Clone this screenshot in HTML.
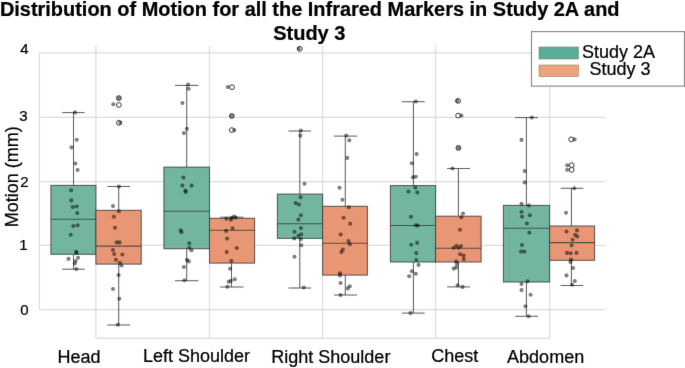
<!DOCTYPE html>
<html><head><meta charset="utf-8"><style>
html,body{margin:0;padding:0;background:#fff;width:685px;height:368px;overflow:hidden}
svg{display:block;will-change:transform}
text{font-family:"Liberation Sans",sans-serif;fill:#000;stroke:#000;stroke-width:0.22px}
</style></head><body>
<svg width="685" height="368" viewBox="0 0 685 368">
<defs><filter id="bl" color-interpolation-filters="sRGB" x="0" y="0" width="685" height="368" filterUnits="userSpaceOnUse"><feConvolveMatrix order="3" kernelMatrix="0.01 0.05 0.01 0.05 0.76 0.05 0.01 0.05 0.01" edgeMode="duplicate" preserveAlpha="true"/></filter></defs>
<g filter="url(#bl)">
<rect width="685" height="368" fill="#fff"/>

<g stroke="#dcdcdc" stroke-width="1.2" fill="none">
<line x1="39.3" y1="52.9" x2="605.5" y2="52.9"/>
<line x1="39.3" y1="117.4" x2="605.5" y2="117.4"/>
<line x1="39.3" y1="181.6" x2="605.5" y2="181.6"/>
<line x1="39.3" y1="245.4" x2="605.5" y2="245.4"/>
<line x1="39.3" y1="309.6" x2="605.5" y2="309.6"/>
<line x1="39.3" y1="52.9" x2="39.3" y2="309.6"/>
<line x1="95.9" y1="45.4" x2="95.9" y2="338.3"/>
<line x1="209.5" y1="45.4" x2="209.5" y2="338.3"/>
<line x1="322.6" y1="45.4" x2="322.6" y2="338.3"/>
<line x1="435.6" y1="45.4" x2="435.6" y2="338.3"/>
<line x1="549.6" y1="45.4" x2="549.6" y2="338.3"/>
<line x1="95.9" y1="338.3" x2="549.6" y2="338.3"/>
</g>
<g stroke="#383838" stroke-width="1.05" stroke-opacity="0.8">
<line x1="73.5" y1="112.6" x2="73.5" y2="185.4"/>
<line x1="73.5" y1="254.3" x2="73.5" y2="269.2"/>
<line x1="62.2" y1="112.6" x2="84.7" y2="112.6"/>
<line x1="62.2" y1="269.2" x2="84.7" y2="269.2"/>
<rect x="50.9" y="185.4" width="45.0" height="68.9" fill="#72b6a1"/>
<line x1="50.9" y1="219.3" x2="95.9" y2="219.3"/>
<line x1="118.7" y1="186.5" x2="118.7" y2="210.3"/>
<line x1="118.7" y1="264.1" x2="118.7" y2="325.0"/>
<line x1="107.4" y1="186.5" x2="130.1" y2="186.5"/>
<line x1="107.4" y1="325.0" x2="130.1" y2="325.0"/>
<rect x="95.9" y="210.3" width="45.3" height="53.8" fill="#e99675"/>
<line x1="95.9" y1="246.1" x2="141.2" y2="246.1"/>
<line x1="186.7" y1="85.4" x2="186.7" y2="167.1"/>
<line x1="186.7" y1="248.7" x2="186.7" y2="280.7"/>
<line x1="175.0" y1="85.4" x2="198.3" y2="85.4"/>
<line x1="175.0" y1="280.7" x2="198.3" y2="280.7"/>
<rect x="163.9" y="167.1" width="45.6" height="81.6" fill="#72b6a1"/>
<line x1="163.9" y1="211.2" x2="209.5" y2="211.2"/>
<line x1="231.5" y1="217.2" x2="231.5" y2="218.3"/>
<line x1="231.5" y1="263.1" x2="231.5" y2="287.0"/>
<line x1="220.2" y1="217.2" x2="243.5" y2="217.2"/>
<line x1="220.2" y1="287.0" x2="243.5" y2="287.0"/>
<rect x="209.5" y="218.3" width="45.1" height="44.8" fill="#e99675"/>
<line x1="209.5" y1="230.2" x2="254.6" y2="230.2"/>
<line x1="299.8" y1="131.0" x2="299.8" y2="194.1"/>
<line x1="299.8" y1="238.4" x2="299.8" y2="288.0"/>
<line x1="288.4" y1="131.0" x2="311.1" y2="131.0"/>
<line x1="288.4" y1="288.0" x2="311.1" y2="288.0"/>
<rect x="277.4" y="194.1" width="45.2" height="44.3" fill="#72b6a1"/>
<line x1="277.4" y1="223.7" x2="322.6" y2="223.7"/>
<line x1="345.3" y1="136.1" x2="345.3" y2="206.3"/>
<line x1="345.3" y1="275.1" x2="345.3" y2="295.0"/>
<line x1="333.9" y1="136.1" x2="357.0" y2="136.1"/>
<line x1="333.9" y1="295.0" x2="357.0" y2="295.0"/>
<rect x="322.6" y="206.3" width="44.8" height="68.8" fill="#e99675"/>
<line x1="322.6" y1="243.3" x2="367.4" y2="243.3"/>
<line x1="413.4" y1="101.7" x2="413.4" y2="185.6"/>
<line x1="413.4" y1="262.0" x2="413.4" y2="313.1"/>
<line x1="401.9" y1="101.7" x2="424.6" y2="101.7"/>
<line x1="401.9" y1="313.1" x2="424.6" y2="313.1"/>
<rect x="390.4" y="185.6" width="45.2" height="76.4" fill="#72b6a1"/>
<line x1="390.4" y1="225.5" x2="435.6" y2="225.5"/>
<line x1="458.4" y1="168.5" x2="458.4" y2="216.2"/>
<line x1="458.4" y1="262.0" x2="458.4" y2="286.9"/>
<line x1="447.1" y1="168.5" x2="469.9" y2="168.5"/>
<line x1="447.1" y1="286.9" x2="469.9" y2="286.9"/>
<rect x="435.6" y="216.2" width="45.5" height="45.8" fill="#e99675"/>
<line x1="435.6" y1="248.3" x2="481.1" y2="248.3"/>
<line x1="526.4" y1="117.6" x2="526.4" y2="205.4"/>
<line x1="526.4" y1="282.0" x2="526.4" y2="316.3"/>
<line x1="515.2" y1="117.6" x2="537.9" y2="117.6"/>
<line x1="515.2" y1="316.3" x2="537.9" y2="316.3"/>
<rect x="503.4" y="205.4" width="46.2" height="76.6" fill="#72b6a1"/>
<line x1="503.4" y1="228.2" x2="549.6" y2="228.2"/>
<line x1="571.4" y1="188.3" x2="571.4" y2="226.0"/>
<line x1="571.4" y1="260.3" x2="571.4" y2="285.5"/>
<line x1="560.6" y1="188.3" x2="583.1" y2="188.3"/>
<line x1="560.6" y1="285.5" x2="583.1" y2="285.5"/>
<rect x="549.6" y="226.0" width="45.0" height="34.3" fill="#e99675"/>
<line x1="549.6" y1="242.6" x2="594.6" y2="242.6"/>
</g>
<g stroke="#383838" stroke-width="1" fill="#fff">
<circle cx="118.9" cy="98.1" r="2.4"/>
<circle cx="118.9" cy="105.0" r="2.4"/>
<circle cx="118.9" cy="122.8" r="2.4"/>
<circle cx="232.0" cy="87.2" r="2.4"/>
<circle cx="231.8" cy="116.0" r="2.4"/>
<circle cx="231.8" cy="130.1" r="2.4"/>
<circle cx="299.8" cy="48.8" r="2.4"/>
<circle cx="458.1" cy="100.9" r="2.4"/>
<circle cx="458.1" cy="115.6" r="2.4"/>
<circle cx="458.4" cy="147.9" r="2.4"/>
<circle cx="571.2" cy="139.4" r="2.4"/>
<circle cx="571.7" cy="165.2" r="2.4"/>
<circle cx="571.7" cy="169.8" r="2.4"/>
</g>
<g fill="#000" fill-opacity="0.5">
<circle cx="75" cy="112.4" r="2.05"/>
<circle cx="76.7" cy="139.8" r="2.05"/>
<circle cx="71.5" cy="147.4" r="2.05"/>
<circle cx="75.4" cy="163.5" r="2.05"/>
<circle cx="77.6" cy="170" r="2.05"/>
<circle cx="71.1" cy="190.2" r="2.05"/>
<circle cx="71.3" cy="200.4" r="2.05"/>
<circle cx="72.8" cy="207" r="2.05"/>
<circle cx="76.7" cy="206.5" r="2.05"/>
<circle cx="77.2" cy="213" r="2.05"/>
<circle cx="73.3" cy="226.1" r="2.05"/>
<circle cx="77.6" cy="225.2" r="2.05"/>
<circle cx="70.7" cy="234.8" r="2.05"/>
<circle cx="76.1" cy="251.7" r="2.05"/>
<circle cx="76.5" cy="253" r="2.05"/>
<circle cx="68.5" cy="258.9" r="2.05"/>
<circle cx="78" cy="257.7" r="2.05"/>
<circle cx="75.6" cy="261.1" r="2.05"/>
<circle cx="74.8" cy="263.6" r="2.05"/>
<circle cx="76.3" cy="269" r="2.05"/>
<circle cx="118.9" cy="98.1" r="2.05"/>
<circle cx="113.3" cy="104.3" r="2.05"/>
<circle cx="120.2" cy="122.8" r="2.05"/>
<circle cx="118.9" cy="186.5" r="2.05"/>
<circle cx="113" cy="206.1" r="2.05"/>
<circle cx="118.9" cy="211.3" r="2.05"/>
<circle cx="113.9" cy="216.7" r="2.05"/>
<circle cx="115" cy="227.8" r="2.05"/>
<circle cx="116.7" cy="242.4" r="2.05"/>
<circle cx="119.6" cy="242.4" r="2.05"/>
<circle cx="113" cy="250" r="2.05"/>
<circle cx="114.2" cy="254" r="2.05"/>
<circle cx="122.3" cy="254.5" r="2.05"/>
<circle cx="115.9" cy="259.7" r="2.05"/>
<circle cx="119.8" cy="262.8" r="2.05"/>
<circle cx="121.5" cy="265.5" r="2.05"/>
<circle cx="118.6" cy="275.1" r="2.05"/>
<circle cx="113" cy="289" r="2.05"/>
<circle cx="119.3" cy="298.8" r="2.05"/>
<circle cx="117.9" cy="324.7" r="2.05"/>
<circle cx="188.1" cy="84.5" r="2.05"/>
<circle cx="188.7" cy="88.7" r="2.05"/>
<circle cx="182.4" cy="103" r="2.05"/>
<circle cx="186.9" cy="128.7" r="2.05"/>
<circle cx="183.9" cy="133.1" r="2.05"/>
<circle cx="183.4" cy="177.5" r="2.05"/>
<circle cx="182.4" cy="185.6" r="2.05"/>
<circle cx="191.7" cy="185.6" r="2.05"/>
<circle cx="185.4" cy="190.5" r="2.05"/>
<circle cx="185.7" cy="192" r="2.05"/>
<circle cx="180.7" cy="230.3" r="2.05"/>
<circle cx="181.5" cy="232.3" r="2.05"/>
<circle cx="189.3" cy="243.3" r="2.05"/>
<circle cx="189.3" cy="247.7" r="2.05"/>
<circle cx="191.5" cy="250.2" r="2.05"/>
<circle cx="186.9" cy="259.9" r="2.05"/>
<circle cx="188.8" cy="261.4" r="2.05"/>
<circle cx="183.9" cy="267" r="2.05"/>
<circle cx="184.4" cy="280.2" r="2.05"/>
<circle cx="227.8" cy="87" r="2.05"/>
<circle cx="231.8" cy="116" r="2.05"/>
<circle cx="234.3" cy="130.1" r="2.05"/>
<circle cx="226.4" cy="218.8" r="2.05"/>
<circle cx="230.9" cy="219.7" r="2.05"/>
<circle cx="231.6" cy="217.8" r="2.05"/>
<circle cx="234" cy="216.6" r="2.05"/>
<circle cx="235.9" cy="217.6" r="2.05"/>
<circle cx="232.6" cy="228.3" r="2.05"/>
<circle cx="226.1" cy="230.9" r="2.05"/>
<circle cx="227.1" cy="238.6" r="2.05"/>
<circle cx="236.7" cy="248" r="2.05"/>
<circle cx="226.7" cy="252.1" r="2.05"/>
<circle cx="231.3" cy="260.9" r="2.05"/>
<circle cx="230.1" cy="268.7" r="2.05"/>
<circle cx="234.8" cy="279.3" r="2.05"/>
<circle cx="230.9" cy="280.7" r="2.05"/>
<circle cx="228.7" cy="281.7" r="2.05"/>
<circle cx="227.4" cy="286.8" r="2.05"/>
<circle cx="298.8" cy="48.8" r="2.05"/>
<circle cx="300.9" cy="130.5" r="2.05"/>
<circle cx="300.4" cy="135.6" r="2.05"/>
<circle cx="304.5" cy="183.8" r="2.05"/>
<circle cx="300.6" cy="197.3" r="2.05"/>
<circle cx="295.7" cy="203.1" r="2.05"/>
<circle cx="299.0" cy="204.5" r="2.05"/>
<circle cx="300.9" cy="215.2" r="2.05"/>
<circle cx="298.4" cy="219.6" r="2.05"/>
<circle cx="300.9" cy="228.1" r="2.05"/>
<circle cx="294.5" cy="231.8" r="2.05"/>
<circle cx="301.3" cy="234.2" r="2.05"/>
<circle cx="298.4" cy="235.9" r="2.05"/>
<circle cx="294.2" cy="238.4" r="2.05"/>
<circle cx="300.9" cy="239.1" r="2.05"/>
<circle cx="301.3" cy="245.2" r="2.05"/>
<circle cx="294.5" cy="256.7" r="2.05"/>
<circle cx="303.8" cy="287.5" r="2.05"/>
<circle cx="346.3" cy="135.6" r="2.05"/>
<circle cx="349.3" cy="140.3" r="2.05"/>
<circle cx="347.3" cy="157.9" r="2.05"/>
<circle cx="339.5" cy="187.7" r="2.05"/>
<circle cx="342.4" cy="199.7" r="2.05"/>
<circle cx="348.8" cy="207.3" r="2.05"/>
<circle cx="343.6" cy="217.8" r="2.05"/>
<circle cx="350.2" cy="223.7" r="2.05"/>
<circle cx="340.7" cy="234.5" r="2.05"/>
<circle cx="348.5" cy="241.1" r="2.05"/>
<circle cx="349.8" cy="244.3" r="2.05"/>
<circle cx="342.9" cy="249.6" r="2.05"/>
<circle cx="341.4" cy="252.1" r="2.05"/>
<circle cx="340" cy="273.3" r="2.05"/>
<circle cx="340" cy="275.5" r="2.05"/>
<circle cx="340.5" cy="283" r="2.05"/>
<circle cx="349.8" cy="286.2" r="2.05"/>
<circle cx="347.8" cy="288.4" r="2.05"/>
<circle cx="340.5" cy="295" r="2.05"/>
<circle cx="415.8" cy="101.5" r="2.05"/>
<circle cx="416.6" cy="154.1" r="2.05"/>
<circle cx="411.9" cy="163.3" r="2.05"/>
<circle cx="412.9" cy="177.3" r="2.05"/>
<circle cx="415.8" cy="176.8" r="2.05"/>
<circle cx="415.3" cy="187.6" r="2.05"/>
<circle cx="408.5" cy="191.5" r="2.05"/>
<circle cx="417.3" cy="192.5" r="2.05"/>
<circle cx="411" cy="216.7" r="2.05"/>
<circle cx="415.8" cy="225.3" r="2.05"/>
<circle cx="417.8" cy="225.5" r="2.05"/>
<circle cx="417.1" cy="242.9" r="2.05"/>
<circle cx="411.2" cy="244.8" r="2.05"/>
<circle cx="416.3" cy="253.1" r="2.05"/>
<circle cx="416.3" cy="260" r="2.05"/>
<circle cx="418.5" cy="264.9" r="2.05"/>
<circle cx="411.9" cy="271.3" r="2.05"/>
<circle cx="415.8" cy="273.7" r="2.05"/>
<circle cx="409.2" cy="276.2" r="2.05"/>
<circle cx="410.4" cy="313.1" r="2.05"/>
<circle cx="457.3" cy="100.9" r="2.05"/>
<circle cx="461.4" cy="115.6" r="2.05"/>
<circle cx="458.4" cy="147.9" r="2.05"/>
<circle cx="452.5" cy="168.5" r="2.05"/>
<circle cx="463" cy="213.5" r="2.05"/>
<circle cx="461.3" cy="217.2" r="2.05"/>
<circle cx="460.1" cy="229.7" r="2.05"/>
<circle cx="453.7" cy="247.8" r="2.05"/>
<circle cx="456.4" cy="245.8" r="2.05"/>
<circle cx="458.6" cy="247.8" r="2.05"/>
<circle cx="461" cy="246.1" r="2.05"/>
<circle cx="460.1" cy="254.3" r="2.05"/>
<circle cx="463.6" cy="255.5" r="2.05"/>
<circle cx="463.7" cy="259.1" r="2.05"/>
<circle cx="456.2" cy="261.3" r="2.05"/>
<circle cx="456.9" cy="263.7" r="2.05"/>
<circle cx="456.2" cy="267.4" r="2.05"/>
<circle cx="453.7" cy="268.6" r="2.05"/>
<circle cx="457.6" cy="285.2" r="2.05"/>
<circle cx="462.5" cy="286.9" r="2.05"/>
<circle cx="531.8" cy="117.6" r="2.05"/>
<circle cx="521.5" cy="139.9" r="2.05"/>
<circle cx="524.7" cy="171.1" r="2.05"/>
<circle cx="524.7" cy="182.4" r="2.05"/>
<circle cx="521.5" cy="203.7" r="2.05"/>
<circle cx="528.9" cy="205.4" r="2.05"/>
<circle cx="521.5" cy="212" r="2.05"/>
<circle cx="522" cy="216.7" r="2.05"/>
<circle cx="529.8" cy="215.2" r="2.05"/>
<circle cx="526.9" cy="223.5" r="2.05"/>
<circle cx="529.3" cy="232.6" r="2.05"/>
<circle cx="522" cy="245" r="2.05"/>
<circle cx="521" cy="251.6" r="2.05"/>
<circle cx="524.4" cy="251.6" r="2.05"/>
<circle cx="527.6" cy="281.3" r="2.05"/>
<circle cx="521.5" cy="284" r="2.05"/>
<circle cx="521.5" cy="290.1" r="2.05"/>
<circle cx="530.6" cy="294.7" r="2.05"/>
<circle cx="525.4" cy="306.2" r="2.05"/>
<circle cx="528.6" cy="316.3" r="2.05"/>
<circle cx="574.6" cy="139.4" r="2.05"/>
<circle cx="567.2" cy="165.2" r="2.05"/>
<circle cx="567.2" cy="169.8" r="2.05"/>
<circle cx="574.3" cy="188.3" r="2.05"/>
<circle cx="566" cy="212.8" r="2.05"/>
<circle cx="566.5" cy="231.6" r="2.05"/>
<circle cx="577" cy="230.4" r="2.05"/>
<circle cx="575.1" cy="234.8" r="2.05"/>
<circle cx="577.3" cy="236.5" r="2.05"/>
<circle cx="572.6" cy="239.7" r="2.05"/>
<circle cx="571.6" cy="245.3" r="2.05"/>
<circle cx="567" cy="252.9" r="2.05"/>
<circle cx="570.7" cy="253.3" r="2.05"/>
<circle cx="576.5" cy="252.9" r="2.05"/>
<circle cx="571.1" cy="259.5" r="2.05"/>
<circle cx="570.4" cy="261.9" r="2.05"/>
<circle cx="573.1" cy="268" r="2.05"/>
<circle cx="566.5" cy="275.4" r="2.05"/>
<circle cx="574.8" cy="281" r="2.05"/>
<circle cx="572.1" cy="284.7" r="2.05"/>
</g>
<text x="309.7" y="15.7" font-size="19.95" font-weight="bold" text-anchor="middle">Distribution of Motion for all the Infrared Markers in Study 2A and</text>
<text x="309.3" y="39.8" font-size="20" font-weight="bold" text-anchor="middle">Study 3</text>
<text x="28.5" y="54.2" font-size="15" text-anchor="end">4</text>
<text x="27.6" y="121.0" font-size="15" text-anchor="end">3</text>
<text x="28.6" y="187.2" font-size="15" text-anchor="end">2</text>
<text x="27.5" y="250.0" font-size="15" text-anchor="end">1</text>
<text x="28.5" y="314.6" font-size="15" text-anchor="end">0</text>
<text transform="translate(17.6,227.2) rotate(-90)" x="0" y="0" font-size="18" text-anchor="start">Motion (mm)</text>
<text x="57.4" y="362.5" font-size="18">Head</text>
<text x="143.0" y="362.0" font-size="18">Left Shoulder</text>
<text x="271.3" y="362.5" font-size="18">Right Shoulder</text>
<text x="431.20000000000005" y="362.3" font-size="18">Chest</text>
<text x="507.1" y="363.1" font-size="18">Abdomen</text>
<rect x="531.5" y="31.6" width="153" height="54.5" fill="#fff" stroke="#8c8c8c" stroke-width="1.2"/>
<rect x="539" y="47" width="39.4" height="12" fill="#5cab98" stroke="#6a8a80" stroke-width="0.6"/>
<rect x="539" y="65" width="39.4" height="11.6" fill="#eca47a" stroke="#a08070" stroke-width="0.6"/>
<text x="618.5" y="58" font-size="18" text-anchor="middle">Study 2A</text>
<text x="620" y="75.4" font-size="18" text-anchor="middle">Study 3</text>
</g></svg></body></html>
